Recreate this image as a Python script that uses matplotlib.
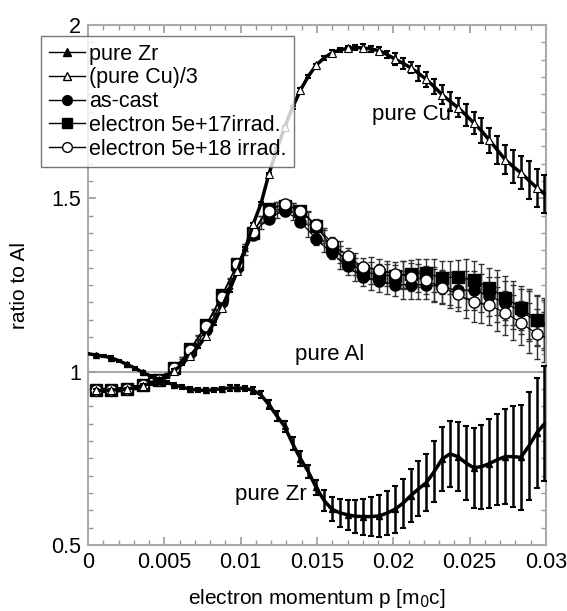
import matplotlib
matplotlib.use("Agg")
import matplotlib.pyplot as plt
import numpy as np
from matplotlib.lines import Line2D
from matplotlib.ticker import MultipleLocator, FuncFormatter

plt.rcParams['font.family'] = ['Liberation Sans', 'DejaVu Sans']

# momentum grid (m0c units): 58 points, markers on every other point
p = np.linspace(0.0005, 0.0299, 58)

# pure Zr / pure Al (first value at p = 0)
zr_p0 = 1.052
zr = [1.048, 1.045, 1.040, 1.031, 1.021, 1.010, 0.998, 0.987, 0.977, 0.969,
      0.962, 0.955, 0.950, 0.947, 0.946, 0.948, 0.951, 0.953, 0.953, 0.952,
      0.946, 0.933, 0.905, 0.873, 0.842, 0.793, 0.749, 0.712, 0.666, 0.629,
      0.603, 0.593, 0.587, 0.583, 0.582, 0.582, 0.584, 0.592, 0.603, 0.620,
      0.642, 0.662, 0.680, 0.712, 0.748, 0.763, 0.755, 0.737, 0.723, 0.726,
      0.735, 0.746, 0.755, 0.755, 0.753, 0.785, 0.823, 0.850]
zr_err = [0.004] * 11 + [0.006] * 6 + [0.008] * 3 + \
    [0.009, 0.010, 0.013, 0.014, 0.015, 0.018, 0.021, 0.019, 0.022, 0.030,
     0.035, 0.040, 0.043, 0.047, 0.052, 0.056, 0.061, 0.064, 0.067, 0.071,
     0.076, 0.079, 0.083, 0.087, 0.092, 0.096, 0.100, 0.106, 0.115, 0.121,
     0.128, 0.132, 0.137, 0.145, 0.152, 0.156, 0.159, 0.165]

# (pure Cu)/3 / pure Al
cu = [0.946, 0.946, 0.947, 0.948, 0.950, 0.954, 0.960, 0.967, 0.975, 0.987,
      1.003, 1.022, 1.045, 1.072, 1.102, 1.140, 1.184, 1.235, 1.290, 1.355,
      1.425, 1.485, 1.570, 1.640, 1.705, 1.762, 1.812, 1.852, 1.884, 1.905,
      1.920, 1.928, 1.933, 1.935, 1.934, 1.931, 1.926, 1.915, 1.902, 1.890,
      1.877, 1.861, 1.843, 1.822, 1.799, 1.780, 1.762, 1.741, 1.718, 1.695,
      1.668, 1.640, 1.612, 1.592, 1.574, 1.552, 1.531, 1.513]
cu_err = [0.004] * 26 + [0.005] * 4 + [0.007] * 4 + [0.010] * 4 + \
    [0.016] * 3 + [0.022] * 3 + [0.027] * 3 + [0.032] * 2 + [0.036] * 2 + \
    [0.041] * 2 + [0.047] * 2 + [0.055] * 3

# alloys
as_cast = [0.948, 0.948, 0.948, 0.949, 0.950, 0.955, 0.962, 0.969, 0.977, 0.990,
           1.008, 1.030, 1.055, 1.086, 1.120, 1.158, 1.200, 1.248, 1.298, 1.348,
           1.395, 1.423, 1.441, 1.455, 1.463, 1.450, 1.432, 1.408, 1.383, 1.362,
           1.343, 1.322, 1.304, 1.287, 1.273, 1.268, 1.263, 1.256, 1.251, 1.251,
           1.251, 1.251, 1.251, 1.248, 1.245, 1.239, 1.235, 1.235, 1.235, 1.227,
           1.218, 1.208, 1.198, 1.186, 1.174, 1.160, 1.145, 1.135]
irr17 = [0.947, 0.947, 0.948, 0.949, 0.950, 0.955, 0.962, 0.969, 0.977, 0.992,
         1.010, 1.036, 1.065, 1.099, 1.135, 1.176, 1.220, 1.265, 1.310, 1.357,
         1.400, 1.440, 1.470, 1.476, 1.478, 1.473, 1.465, 1.445, 1.420, 1.390,
         1.360, 1.338, 1.320, 1.303, 1.290, 1.284, 1.280, 1.278, 1.276, 1.280,
         1.283, 1.284, 1.285, 1.277, 1.271, 1.272, 1.274, 1.270, 1.264, 1.254,
         1.242, 1.228, 1.213, 1.199, 1.184, 1.167, 1.150, 1.140]
irr18 = [0.948, 0.948, 0.948, 0.949, 0.950, 0.955, 0.962, 0.969, 0.977, 0.992,
         1.011, 1.035, 1.063, 1.097, 1.133, 1.172, 1.215, 1.262, 1.311, 1.358,
         1.403, 1.438, 1.463, 1.476, 1.483, 1.475, 1.463, 1.443, 1.422, 1.396,
         1.372, 1.351, 1.333, 1.316, 1.303, 1.298, 1.293, 1.288, 1.283, 1.279,
         1.274, 1.270, 1.264, 1.253, 1.242, 1.233, 1.223, 1.211, 1.200, 1.196,
         1.191, 1.181, 1.170, 1.156, 1.141, 1.125, 1.110, 1.100]
alloy_err = [0.004] * 11 + [0.006] * 8 + [0.010] * 4 + [0.013] * 4 + \
    [0.018] * 4 + [0.025] * 4 + [0.032] * 4 + [0.040] * 4 + [0.048] * 4 + \
    [0.056] * 4 + [0.064] * 4 + [0.072] * 3

fig = plt.figure(figsize=(5.67, 6.11), dpi=100)
ax = fig.add_axes([0.1552, 0.108, 0.8078, 0.851])

ax.axhline(1.0, color='#aaaaaa', lw=1.5, zorder=1)

# alloys, thin lines
for y, mk, fc in [(as_cast, 'o', 'black'), (irr17, 's', 'black'), (irr18, 'o', 'white')]:
    ax.errorbar(p, y, yerr=alloy_err, fmt='none', ecolor='#333333',
                elinewidth=1.0, capsize=2.5, capthick=1.0, zorder=2)
    ax.plot(p, y, '-', color='black', lw=0.9, marker=mk, ms=8,
            mfc=fc, mec='black', mew=1.0, markevery=(0, 2), zorder=3)

# pure Cu /3
ax.errorbar(p, cu, yerr=cu_err, fmt='none', ecolor='black',
            elinewidth=1.8, capsize=2.5, capthick=1.5, zorder=4)
ax.plot(p, cu, '-', color='black', lw=2.5, marker='^', ms=6,
        mfc='white', mec='black', mew=0.8, markevery=(0, 2), zorder=5)

# pure Zr
zr_x = np.concatenate([[0.0], p])
zr_y = [zr_p0] + zr
ax.errorbar(p, zr, yerr=zr_err, fmt='none', ecolor='black',
            elinewidth=1.8, capsize=2.5, capthick=1.5, zorder=4)
ax.plot(zr_x, zr_y, '-', color='black', lw=2.5, marker='^', ms=5,
        mfc='black', mec='black', markevery=(1, 2), zorder=5)

ax.set_xlim(0, 0.03)
ax.set_ylim(0.5, 2.0)
ax.xaxis.set_major_locator(MultipleLocator(0.005))
ax.xaxis.set_minor_locator(MultipleLocator(0.001))
ax.yaxis.set_major_locator(MultipleLocator(0.5))
ax.yaxis.set_minor_locator(MultipleLocator(0.05))
fmt = FuncFormatter(lambda v, pos: f"{v:g}")
ax.xaxis.set_major_formatter(fmt)
ax.yaxis.set_major_formatter(fmt)
ax.tick_params(which='both', direction='in', top=True, right=True,
               color='#999999', labelsize=15.5, pad=5)
ax.tick_params(which='major', length=6, width=1.2)
ax.tick_params(which='minor', length=3.5, width=1.0)
for s in ax.spines.values():
    s.set_color('#aaaaaa')
    s.set_linewidth(1.5)

ax.set_xlabel('electron momentum p [m$_0$c]', fontsize=15, labelpad=10)
ax.set_ylabel('ratio to Al', fontsize=15, labelpad=16)

ax.text(0.0186, 1.743, 'pure Cu', fontsize=16, va='center', ha='left')
ax.text(0.01356, 1.049, 'pure Al', fontsize=16, va='center', ha='left')
ax.text(0.00963, 0.645, 'pure Zr', fontsize=16, va='center', ha='left')

handles = [
    Line2D([], [], color='black', lw=1, marker='^', ms=6, mfc='black'),
    Line2D([], [], color='black', lw=1, marker='^', ms=6, mfc='white'),
    Line2D([], [], color='black', lw=1, marker='o', ms=7, mfc='black'),
    Line2D([], [], color='black', lw=1, marker='s', ms=7, mfc='black'),
    Line2D([], [], color='black', lw=1, marker='o', ms=7, mfc='white'),
]
labels = ['pure Zr', '(pure Cu)/3', 'as-cast', 'electron 5e+17irrad.',
          'electron 5e+18 irrad.']
leg = fig.legend(handles, labels, loc='upper left',
                 bbox_to_anchor=(41 / 567, 1 - 36 / 611),
                 fontsize=15.5, frameon=True, fancybox=False,
                 handlelength=1.7, handletextpad=0.2, labelspacing=0.13,
                 borderpad=0.35, borderaxespad=0)
leg.get_frame().set_edgecolor('#555555')
leg.get_frame().set_linewidth(1.0)
leg.set_zorder(10)

fig.savefig('out.png', dpi=100)
